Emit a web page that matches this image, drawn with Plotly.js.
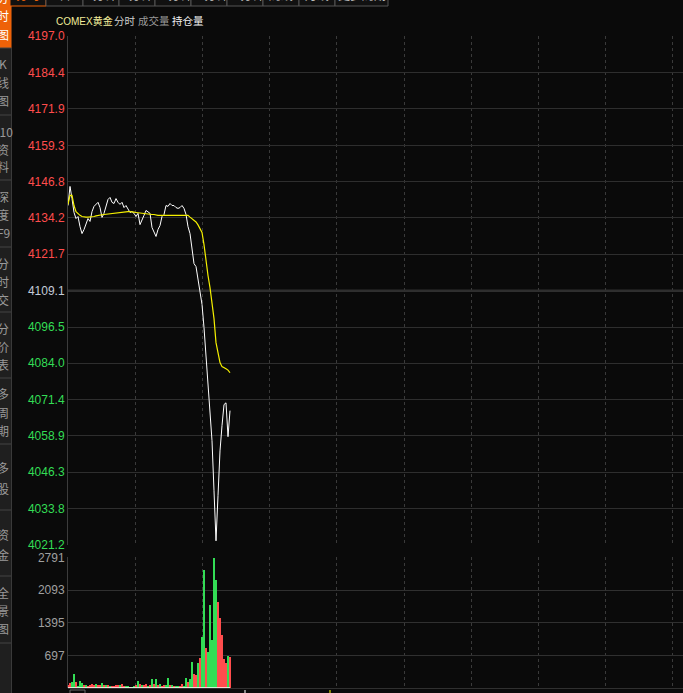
<!DOCTYPE html>
<html><head><meta charset="utf-8">
<script src="https://cdn.plot.ly/plotly-3.0.1.min.js"></script>
<style>html,body{margin:0;padding:0;background:#0a0a0a;overflow:hidden}#chart{width:683px;height:693px}</style>
</head><body><div id="chart"></div>
<script>
// ---------- data ----------
const priceTicks = [4197.0,4184.4,4171.9,4159.3,4146.8,4134.2,4121.7,4109.1,4096.5,4084.0,4071.4,4058.9,4046.3,4033.8,4021.2];
const prevClose = 4109.1;
const volumeTicks = [697,1395,2093,2791];
const price = [4138.5,4145.1,4140.9,4136.1,4134.0,4134.7,4131.2,4128.8,4130.2,4132.3,
 4134.0,4133.0,4136.4,4138.2,4138.9,4139.6,4137.8,4134.4,4135.8,4138.2,
 4140.6,4141.3,4139.6,4139.2,4140.9,4139.6,4138.9,4139.6,4137.8,4138.5,
 4137.1,4136.1,4136.4,4135.8,4134.7,4135.8,4131.9,4133.3,4135.1,4136.8,
 4136.4,4135.8,4130.9,4129.5,4127.8,4130.2,4131.6,4134.7,4135.4,4138.5,
 4138.2,4139.2,4138.5,4138.5,4137.8,4137.5,4137.8,4138.5,4137.5,4135.4,
 4131.2,4128.8,4122.9,4118.4,4117.4,4112.9,4109.1,4104.3,4096.3,4085.6,
 4076.2,4066.5,4057.2,4039.9,4022.6,4038.2,4053.7,4062.4,4069.7,4070.3,
 4058.6,4067.6];
const avgPrice = [4138.9,4142.0,4142.0,4138.5,4136.4,4135.6,4135.1,4134.7,4134.5,4134.5,
 4134.5,4134.5,4134.5,4134.7,4134.9,4135.1,4135.2,4135.3,4135.4,4135.5,
 4135.6,4135.7,4135.8,4135.9,4136.0,4136.1,4136.1,4136.2,4136.3,4136.3,
 4136.4,4136.4,4136.4,4136.2,4136.1,4136.0,4135.8,4135.7,4135.6,4135.5,
 4135.5,4135.5,4135.4,4135.4,4135.2,4135.1,4135.1,4135.1,4135.2,4135.3,
 4135.3,4135.3,4135.3,4135.3,4135.3,4135.3,4135.3,4135.3,4135.3,4135.3,
 4135.1,4134.5,4134.0,4133.5,4132.8,4131.8,4130.6,4129.2,4125.0,4119.1,
 4114.3,4110.1,4105.6,4099.4,4091.1,4087.3,4084.2,4082.8,4082.5,4082.1,
 4081.6,4080.7];
const volume = [60,107,130,300,120,40,140,110,60,60,
 40,70,80,60,80,60,70,100,60,60,
 70,40,50,40,60,60,70,90,40,40,
 45,30,30,40,70,160,85,70,70,85,
 40,70,185,85,190,70,85,40,60,70,
 210,70,60,40,40,40,40,90,40,210,
 120,200,550,300,280,530,640,1100,2520,850,
 780,1780,1030,2791,2310,1850,1500,1130,630,530,
 680,660];
const volumeDir = [1,1,-1,-1,1,-1,-1,-1,1,-1,
 1,1,1,1,-1,1,1,-1,1,-1,
 1,-1,1,1,1,1,-1,1,1,-1,
 -1,1,-1,-1,1,-1,1,-1,1,1,
 -1,1,-1,1,-1,1,-1,1,1,-1,
 -1,1,-1,1,-1,-1,1,1,-1,-1,
 1,-1,-1,1,1,-1,1,-1,-1,1,
 -1,-1,-1,-1,-1,1,1,1,1,1,
 -1,1];
const titleParts = ["COMEX黄金","分时","成交量","持仓量"];
const tabLabels = ["分时","日","1分钟","5分钟","15分钟","30分钟","60分钟","周线","月线","更多周期"];
const sideLabels = [["分","时","图"],["K","线","图"],["F10","资","料"],["深","度","F9"],["分","时","交"],["分","价","表"],["多","周","期"],["多","股"],["资","金"],["全","景","图"],[]];

// ---------- layout helpers ----------
const W = 683, H = 693, ML = 68, MT = 36, MB = 5;
const PW = W - ML, PH = H - MT - MB;
const px2x = p => (p - ML) / PW;
const py2y = p => (H - MB - p) / PH;
const idx = price.map((_, i) => i);
const xMax = PW / 2;

const RED = '#ff4d4d', GREEN = '#33dd55', NEUTRAL = '#c4cbd8';
const tickFont = {family: 'Liberation Sans, Arial, sans-serif', size: 12};
const priceText = priceTicks.map(v => {
  const c = v > prevClose ? RED : (v < prevClose ? GREEN : NEUTRAL);
  return '<span style="color:' + c + '">' + v.toFixed(1) + '</span>';
});

const traces = [
  {x: idx, y: price, type: 'scatter', mode: 'lines', line: {color: '#ffffff', width: 1}, xaxis: 'x', yaxis: 'y', hoverinfo: 'skip'},
  {x: idx, y: avgPrice, type: 'scatter', mode: 'lines', line: {color: '#f5f000', width: 1.2}, xaxis: 'x', yaxis: 'y', hoverinfo: 'skip'},
  {x: idx, y: volume, type: 'bar', width: 0.75, marker: {color: volumeDir.map(d => d > 0 ? RED : GREEN), line: {width: 0}}, xaxis: 'x2', yaxis: 'y2', hoverinfo: 'skip'},
  {x: [0, idx.length - 1], y: [0, 0], type: 'scatter', mode: 'lines', line: {color: '#ffffff', width: 1.5}, xaxis: 'x2', yaxis: 'y2', hoverinfo: 'skip'}
];

const gridX = [];
for (let k = 1; k * 33.6 < xMax; k++) gridX.push(k * 33.6);

const xCommon = {range: [0, xMax], showticklabels: false, ticks: '', tickvals: gridX, showgrid: true, griddash: 'dot', gridcolor: '#3a3a3a', gridwidth: 1, zeroline: false, showline: false, fixedrange: true};

const shapes = [];
const annotations = [];

// previous close line
shapes.push({type: 'line', xref: 'paper', yref: 'y', x0: 0, x1: 1, y0: prevClose, y1: prevClose, line: {color: '#555555', width: 1.6}, layer: 'below'});

// left sidebar
const sideB = [0,48,115,180,247,312,378,444,510,576,643,693];
shapes.push({type: 'rect', xref: 'paper', yref: 'paper', x0: px2x(-2), x1: px2x(11.5), y0: py2y(H+2), y1: py2y(-2), fillcolor: '#1f1f1f', line: {width: 0}});
shapes.push({type: 'rect', xref: 'paper', yref: 'paper', x0: px2x(-2), x1: px2x(11.5), y0: py2y(48), y1: py2y(-2), fillcolor: '#ee6208', line: {width: 0}});
for (let k = 1; k < sideB.length - 1; k++) {
  shapes.push({type: 'line', xref: 'paper', yref: 'paper', x0: px2x(0), x1: px2x(11.5), y0: py2y(sideB[k]), y1: py2y(sideB[k]), line: {color: '#444444', width: 1}});
}
shapes.push({type: 'line', xref: 'paper', yref: 'paper', x0: px2x(11.5), x1: px2x(11.5), y0: py2y(H), y1: py2y(48), line: {color: '#3a3a3a', width: 1}});
sideLabels.forEach((chars, k) => {
  const top = k === 0 ? -18 : sideB[k];
  const offs = chars.length === 2 ? [24, 44] : [16, 34, 52];
  chars.forEach((ch, j) => {
    annotations.push({xref: 'paper', yref: 'paper', x: px2x(3), y: py2y(top + offs[j]), text: ch, showarrow: false, xanchor: 'center', yanchor: 'middle',
      borderpad: 0, font: {family: 'Noto Sans CJK SC, sans-serif', size: 12, color: k === 0 ? '#ffffff' : '#9a9a9a'}});
  });
});

// top tabs
const tabB = [10,46,83,119,155,191,227,263,299,335,388];
tabLabels.forEach((t, k) => {
  shapes.push({type: 'rect', xref: 'paper', yref: 'paper', x0: px2x(tabB[k]), x1: px2x(tabB[k+1]), y0: py2y(6), y1: py2y(-10), fillcolor: '#111111', line: {color: k === 0 ? '#ee6208' : '#555555', width: 1}});
  annotations.push({xref: 'paper', yref: 'paper', x: px2x((tabB[k] + tabB[k+1]) / 2), y: py2y(5), text: t, showarrow: false, xanchor: 'center', yanchor: 'bottom',
    font: {family: 'Noto Sans CJK SC, sans-serif', size: 12, color: k === 0 ? '#ee6208' : '#bbbbbb'}});
});

// title row
const titleX = [55, 113, 137, 171];
const titleS = [10, 10.5, 10.5, 10.5];
const titleC = ['#f2ec9a', '#cfcfcf', '#9a9a9a', '#f0f0f0'];
titleParts.forEach((t, k) => {
  annotations.push({xref: 'paper', yref: 'paper', x: px2x(titleX[k]), y: py2y(20.5), text: t, showarrow: false, xanchor: 'left', yanchor: 'middle',
    font: {family: 'Liberation Sans, Noto Sans CJK SC, sans-serif', size: titleS[k], color: titleC[k]}, borderpad: 0});
});

// bottom small marks
shapes.push({type: 'rect', xref: 'paper', yref: 'paper', x0: px2x(70), x1: px2x(85), y0: py2y(696), y1: py2y(690), line: {color: '#666666', width: 1}, fillcolor: 'rgba(0,0,0,0)'});
shapes.push({type: 'line', xref: 'paper', yref: 'paper', x0: px2x(245), x1: px2x(245), y0: py2y(693), y1: py2y(690), line: {color: '#ffffff', width: 1}});
shapes.push({type: 'line', xref: 'paper', yref: 'paper', x0: px2x(330), x1: px2x(330), y0: py2y(693), y1: py2y(690), line: {color: '#ffff00', width: 1}});

const layout = {
  width: W, height: H,
  margin: {l: ML, r: 0, t: MT, b: MB, pad: 0},
  paper_bgcolor: '#0a0a0a', plot_bgcolor: '#0a0a0a',
  showlegend: false,
  xaxis: Object.assign({}, xCommon, {anchor: 'y', domain: [0, 1]}),
  xaxis2: Object.assign({}, xCommon, {anchor: 'y2', domain: [0, 1]}),
  yaxis: {domain: [py2y(545.3), 1], range: [4021.05, 4197.1], tickvals: priceTicks, ticktext: priceText, tickfont: tickFont,
    ticks: '', showgrid: true, gridcolor: '#2e2e2e', gridwidth: 1, zeroline: false, showline: true, linecolor: '#3c3c3c', linewidth: 1, fixedrange: true},
  yaxis2: {domain: [0, py2y(557.3)], range: [0, 2796], tickvals: volumeTicks, ticktext: volumeTicks.map(String), tickfont: Object.assign({}, tickFont, {color: '#a0a0a0'}),
    ticks: '', showgrid: true, gridcolor: '#303030', gridwidth: 1, zeroline: true, zerolinecolor: '#303030', zerolinewidth: 1, showline: true, linecolor: '#3c3c3c', linewidth: 1, fixedrange: true},
  bargap: 0,
  shapes: shapes,
  annotations: annotations
};

Plotly.newPlot('chart', traces, layout, {displayModeBar: false, staticPlot: true});
</script>
</body></html>
